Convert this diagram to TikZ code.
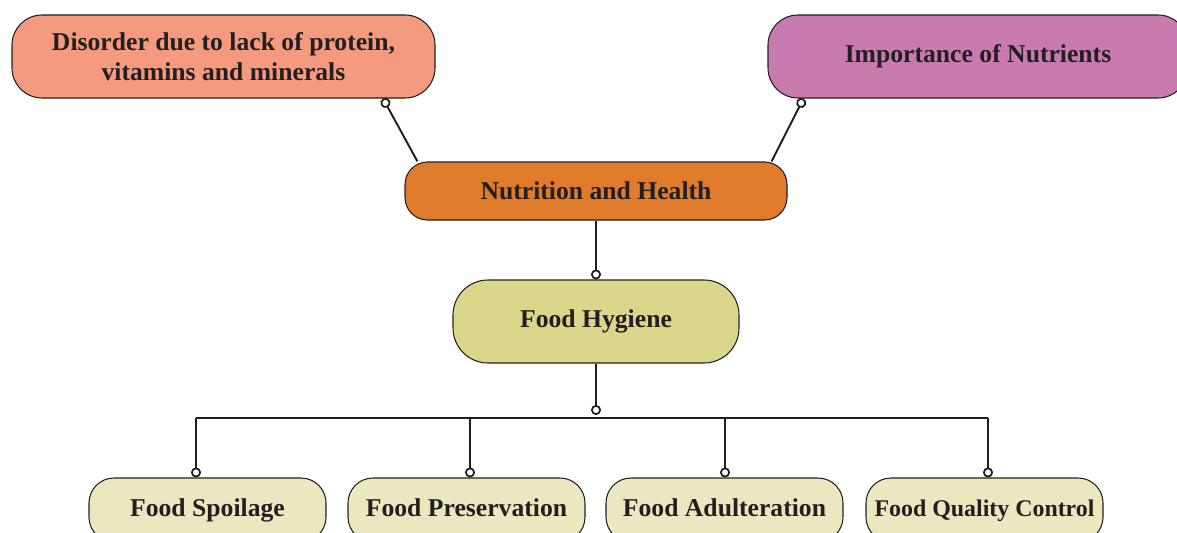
\documentclass[tikz,border=0pt]{standalone}
\usepackage{fontspec}
\setmainfont{Liberation Serif}
\usetikzlibrary{positioning,arrows.meta}

\definecolor{inkgray}{HTML}{231F20}
\definecolor{disorderpink}{HTML}{F49A7E}
\definecolor{nutrientpurple}{HTML}{C97BB0}
\definecolor{healthorange}{HTML}{E07B2C}
\definecolor{hygieneolive}{HTML}{DAD78A}
\definecolor{topiccream}{HTML}{EBE8C0}

\begin{document}
\begin{tikzpicture}[x=0.2mm, y=-0.2mm,
    box/.style={draw=inkgray, line width=0.6pt, align=center, inner sep=0pt,
      text=inkgray, font=\fontsize{14.6}{17.5}\selectfont\bfseries},
    topic/.style={box, fill=topiccream, minimum width=4.74cm,
      minimum height=1.28cm, rounded corners=5mm,
      text height=10pt, text depth=2.5pt},
    wire/.style={inkgray, line width=1.1pt},
    link/.style={wire, -{Circle[open, length=2mm, fill=white, line width=1pt]}}]
  \clip (0,0) rectangle (1177,532);

  % top row
  \node[box, fill=disorderpink, minimum width=8.46cm, minimum height=1.66cm,
    rounded corners=6mm] (disorder) at (223.5,56.5)
    {Disorder due to lack of protein,\\vitamins and minerals};
  \node[box, fill=nutrientpurple, minimum width=8.4cm, minimum height=1.66cm,
    rounded corners=6mm] (nutrients) at (978,56.5) {Importance of Nutrients};

  % centre column
  \node[box, fill=healthorange, minimum width=7.64cm, minimum height=1.16cm,
    rounded corners=4.5mm] (health) at (596,191) {Nutrition and Health};
  \node[box, fill=hygieneolive, minimum width=5.72cm, minimum height=1.66cm,
    rounded corners=7mm] (hygiene) at (596,321.5) {Food Hygiene};

  % bottom row
  \node[topic] (spoilage)     at (207.5,510) {Food Spoilage};
  \node[topic] (preservation) at (466.5,510) {Food Preservation};
  \node[topic] (adulteration) at (724.5,510) {Food Adulteration};
  \node[topic, font=\fontsize{13.6}{16}\selectfont\bfseries]
    (quality) at (984.5,510) {Food Quality Control};

  % connectors
  \draw[link] ([xshift=2.6mm]health.north west) -- ([xshift=3.19cm]disorder.south);
  \draw[link] ([xshift=-3.2mm]health.north east) -- ([xshift=7.2mm]nutrients.south west);
  \draw[link] (health.south) -- (hygiene.north);

  \coordinate (bus) at (596,418);
  \draw[link] (hygiene.south) -- ([yshift=0.6mm]bus);
  \draw[wire] ([xshift=-2.3mm]spoilage.north |- bus) -- ([xshift=0.7mm]quality.north |- bus);
  \foreach \n/\dx in {spoilage/-2.3mm, preservation/0.7mm,
      adulteration/0.1mm, quality/0.7mm}
    \draw[link] ([xshift=\dx]\n.north |- bus) -- ([xshift=\dx]\n.north);
\end{tikzpicture}
\end{document}
